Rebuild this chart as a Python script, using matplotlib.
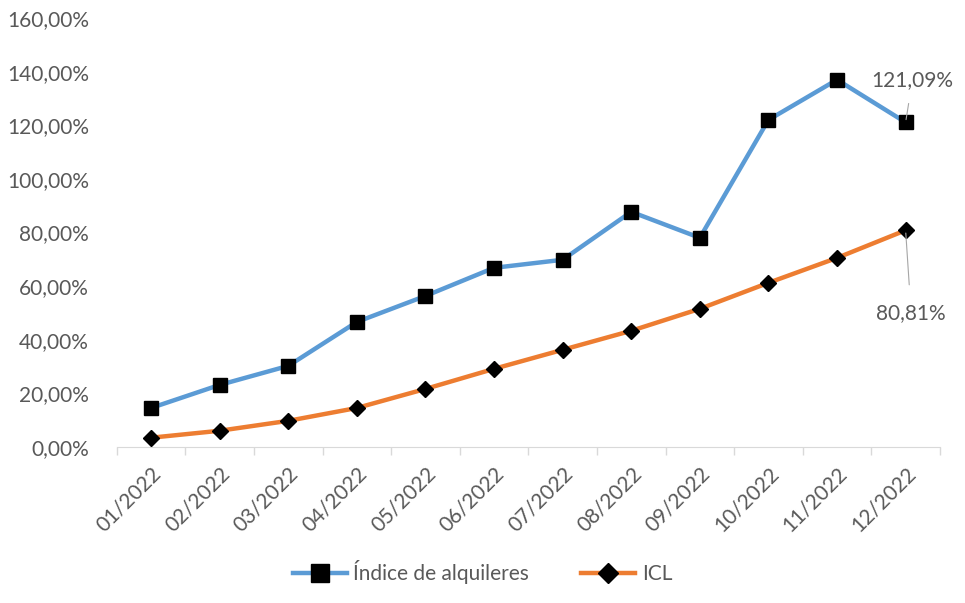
import matplotlib.pyplot as plt

months = ["01/2022", "02/2022", "03/2022", "04/2022", "05/2022", "06/2022",
          "07/2022", "08/2022", "09/2022", "10/2022", "11/2022", "12/2022"]
alquileres = [14.5, 23.1, 30.2, 46.6, 56.3, 66.8, 69.8, 87.7, 78.0, 122.0, 137.0, 121.09]
icl = [3.4, 6.0, 9.7, 14.5, 21.6, 29.1, 36.2, 43.3, 51.5, 61.2, 70.5, 80.81]
yticks = [0, 20, 40, 60, 80, 100, 120, 140, 160]

grey = '#595959'
plt.rcParams['font.family'] = ['Lato', 'DejaVu Sans']

fig = plt.figure(figsize=(9.65, 6.03), dpi=100)
ax = fig.add_axes([0.121, 0.259, 0.853, 0.711])

x = list(range(len(months)))
ax.plot(x, alquileres, color='#5B9BD5', lw=3.2, marker='s', markersize=10,
        markerfacecolor='black', markeredgecolor='black', label='Índice de alquileres', zorder=3)
ax.plot(x, icl, color='#ED7D31', lw=3.2, marker='D', markersize=8,
        markerfacecolor='black', markeredgecolor='black', label='ICL', zorder=3)

ax.set_xlim(-0.5, len(months) - 0.5)
ax.set_ylim(0, 160)
ax.set_yticks(yticks)
ax.set_yticklabels([f"{v},00%" for v in yticks])
ax.set_xticks(x)
ax.set_xticklabels(months, rotation=45, ha='right', rotation_mode='anchor')

# category boundary ticks on the x axis
ax.set_xticks([i - 0.5 for i in range(len(months) + 1)], minor=True)
ax.tick_params(axis='x', which='major', length=0, pad=12, labelsize=15, colors=grey)
ax.tick_params(axis='x', which='minor', length=6, color='#D9D9D9', width=1)
ax.tick_params(axis='y', length=0, labelsize=15, colors=grey, pad=20)

for s in ['top', 'right', 'left']:
    ax.spines[s].set_visible(False)
ax.spines['bottom'].set_color('#D9D9D9')

ax.annotate(f"{alquileres[-1]:.2f}%".replace('.', ','), xy=(x[-1], alquileres[-1]),
            xytext=(x[-1] + 0.1, 137), ha='center', va='center', fontsize=15, color=grey,
            arrowprops=dict(arrowstyle='-', color='#A6A6A6', lw=0.8, shrinkA=8, shrinkB=2))
ax.annotate(f"{icl[-1]:.2f}%".replace('.', ','), xy=(x[-1], icl[-1]),
            xytext=(x[-1] + 0.08, 50), ha='center', va='center', fontsize=15, color=grey,
            arrowprops=dict(arrowstyle='-', color='#A6A6A6', lw=0.8, shrinkA=11, shrinkB=2))

fig.legend(loc='lower center', bbox_to_anchor=(0.5, 0.0), ncol=2, frameon=False,
           fontsize=15, labelcolor=grey, handlelength=2.6, handletextpad=0.3,
           columnspacing=2.5, markerscale=1.3)

fig.savefig('out.png', dpi=100)
